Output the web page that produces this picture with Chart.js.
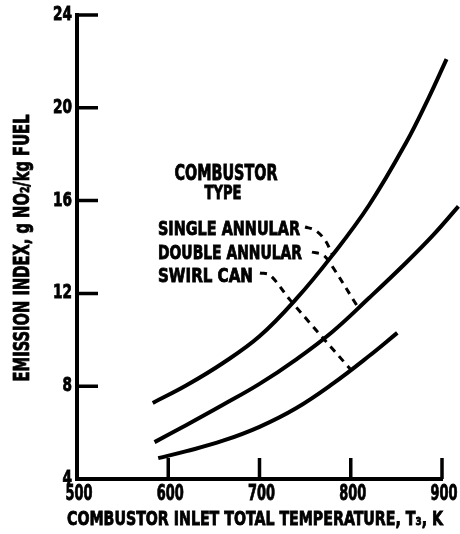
<!DOCTYPE html>
<html>
<head>
<meta charset="utf-8">
<script src="https://cdn.jsdelivr.net/npm/chart.js@4.4.1/dist/chart.umd.min.js"></script>
<style>
  html, body { margin: 0; padding: 0; background: #fff; }
  #wrap { width: 460px; height: 534px; position: relative; }
</style>
</head>
<body>
<div id="wrap"><canvas id="emissionChart"></canvas></div>
<script>
// Valores (temperatura T3 em K, índice em g NO2/kg)
const singleT  = [583, 620, 660, 700, 740, 780, 820, 860, 885, 905];
const singleEI = [7.28, 8.04, 9.0, 10.15, 11.75, 13.65, 15.8, 18.45, 20.4, 22.1];

const doubleT  = [585, 620, 660, 700, 740, 780, 820, 860, 890, 918];
const doubleEI = [5.59, 6.33, 7.2, 8.1, 9.15, 10.35, 11.8, 13.3, 14.5, 15.75];

const swirlT  = [589, 620, 660, 700, 740, 780, 820, 851];
const swirlEI = [4.9, 5.2, 5.65, 6.25, 7.05, 8.1, 9.3, 10.3];

// Linhas tracejadas de chamada (rótulo -> curva)
const leaderSingleT  = [749.9, 760.8, 771.8, 779.5];
const leaderSingleEI = [14.86, 14.73, 14.3, 13.7];
const leaderDoubleT  = [757.5, 769.6, 777.3, 808];
const leaderDoubleEI = [13.78, 13.66, 13.31, 11.4];
const leaderSwirlT   = [700.5, 711.5, 733.4, 799.2];
const leaderSwirlEI  = [12.88, 12.79, 11.72, 8.75];

const xTicks = [500, 600, 700, 800, 900];
const yTicks = [4, 8, 12, 16, 20, 24];

const FONT = '"Liberation Sans Narrow", "DejaVu Sans Condensed", sans-serif';

const toPoints = (xs, ys) => xs.map((x, i) => ({ x: x, y: ys[i] }));

const curve = (label, xs, ys) => ({
    label: label,
    data: toPoints(xs, ys),
    borderColor: '#000',
    borderWidth: 4,
    pointRadius: 0,
    tension: 0.4,
    fill: false,
    clip: false,
});

const leader = (xs, ys) => ({
    label: '',
    data: toPoints(xs, ys),
    borderColor: '#000',
    borderWidth: 3,
    borderDash: [7, 6],
    pointRadius: 0,
    tension: 0.35,
    fill: false,
    clip: false,
});

// Escreve texto comprimido horizontalmente até a largura desejada
function drawFitted(ctx, text, x, y, width, cap, align, rotate) {
    const size = cap / 0.72;
    ctx.save();
    ctx.font = 'bold ' + size + 'px ' + FONT;
    ctx.fillStyle = '#000';
    ctx.strokeStyle = '#000';
    ctx.lineWidth = 0.8;
    ctx.textBaseline = 'middle';
    ctx.textAlign = 'left';
    const w = ctx.measureText(text).width;
    const sx = width / w;
    ctx.translate(x, y);
    if (rotate) ctx.rotate(-Math.PI / 2);
    ctx.scale(sx, 1);
    let ox = 0;
    if (align === 'center') ox = -w / 2;
    if (align === 'right') ox = -w;
    ctx.fillText(text, ox, 0);
    ctx.strokeText(text, ox, 0);
    ctx.restore();
}

const annotations = {
    id: 'annotations',
    beforeDraw(chart) {
        const ctx = chart.ctx;
        ctx.save();
        ctx.fillStyle = '#fff';
        ctx.fillRect(0, 0, chart.width, chart.height);
        ctx.restore();
    },
    afterDatasetsDraw(chart) {
        const ctx = chart.ctx;
        const xs = chart.scales.x;
        const ys = chart.scales.y;
        const area = chart.chartArea;

        // marcas dos eixos voltadas para dentro
        ctx.save();
        ctx.strokeStyle = '#000';
        ctx.lineWidth = 3.5;
        ctx.beginPath();
        yTicks.slice(1).forEach(v => {
            const py = ys.getPixelForValue(v);
            ctx.moveTo(area.left, py);
            ctx.lineTo(area.left + 21, py);
        });
        xTicks.slice(1).forEach(v => {
            const px = xs.getPixelForValue(v);
            ctx.moveTo(px, area.bottom);
            ctx.lineTo(px, area.bottom - 21);
        });
        ctx.stroke();
        ctx.restore();

        // rótulos das marcas (estreitos, como no original)
        yTicks.forEach(v => {
            const s = String(v);
            drawFitted(ctx, s, area.left - 5, ys.getPixelForValue(v), s.length * 9.5, 14, 'right');
        });
        xTicks.forEach(v => {
            drawFitted(ctx, String(v), xs.getPixelForValue(v) + 2, area.bottom + 16, 27, 15, 'center');
        });

        // textos
        drawFitted(ctx, 'COMBUSTOR', 226, 175, 103, 15, 'center');
        drawFitted(ctx, 'TYPE', 223, 194, 37, 14, 'center');
        drawFitted(ctx, 'SINGLE ANNULAR', 158, 230, 142, 14, 'left');
        drawFitted(ctx, 'DOUBLE ANNULAR', 158, 254, 144, 14, 'left');
        drawFitted(ctx, 'SWIRL CAN', 158, 277, 95, 14, 'left');

        drawFitted(ctx, 'EMISSION INDEX, g NO\u2082/kg FUEL', 24, 248, 267, 15, 'center', true);
        drawFitted(ctx, 'COMBUSTOR INLET TOTAL TEMPERATURE, T\u2083, K', 255, 520, 376, 14, 'center');
    }
};

const App = {
    init() {
        const ctx = document.getElementById('emissionChart').getContext('2d');
        this.chart = new Chart(ctx, {
            type: 'line',
            data: {
                datasets: [
                    curve('Single annular', singleT, singleEI),
                    curve('Double annular', doubleT, doubleEI),
                    curve('Swirl can', swirlT, swirlEI),
                    leader(leaderSingleT, leaderSingleEI),
                    leader(leaderDoubleT, leaderDoubleEI),
                    leader(leaderSwirlT, leaderSwirlEI),
                ]
            },
            options: {
                responsive: true,
                maintainAspectRatio: false,
                animation: false,
                layout: { padding: { top: 15, right: 18, left: 0, bottom: 0 } },
                plugins: {
                    legend: { display: false },
                    tooltip: { enabled: false }
                },
                scales: {
                    x: {
                        type: 'linear',
                        min: 500,
                        max: 900,
                        afterFit: (s) => { s.height = 55; },
                        afterBuildTicks: (s) => { s.ticks = xTicks.map(v => ({ value: v })); },
                        grid: { display: false, drawTicks: false },
                        border: { display: true, color: '#000', width: 4 },
                        ticks: { display: false }
                    },
                    y: {
                        type: 'linear',
                        min: 4,
                        max: 24,
                        afterFit: (s) => { s.width = 77; },
                        afterBuildTicks: (s) => { s.ticks = yTicks.map(v => ({ value: v })); },
                        grid: { display: false, drawTicks: false },
                        border: { display: true, color: '#000', width: 4 },
                        ticks: { display: false }
                    }
                }
            },
            plugins: [annotations]
        });
    }
};

document.addEventListener('DOMContentLoaded', () => {
    App.init();
});
</script>
</body>
</html>
